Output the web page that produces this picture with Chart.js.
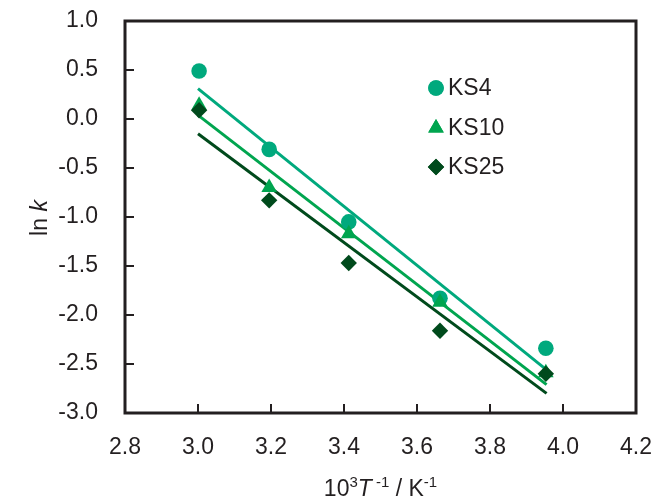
<!DOCTYPE html>
<html>
<head>
<meta charset="utf-8">
<script src="https://cdn.jsdelivr.net/npm/chart.js@4"></script>
<style>
  html, body { margin: 0; padding: 0; background: #fff; }
  #wrap { width: 651px; height: 498px; }
</style>
</head>
<body>
<div id="wrap"><canvas id="myChart" width="651" height="498"></canvas></div>
<script>
// 10^3/T values (K^-1)
const invT = [3.003, 3.195, 3.413, 3.663, 3.953];

// ln k per sample
const ks4 = [0.49, -0.31, -1.05, -1.83, -2.34];
const ks10 = [0.14, -0.70, -1.17, -1.87, -2.59];
const ks25 = [0.09, -0.83, -1.47, -2.16, -2.60];

// trend line ends
const fitX = [3.0, 3.955];
const fitKS4 = [0.31, -2.56];
const fitKS10 = [0.04, -2.71];
const fitKS25 = [-0.15, -2.80];

const seriesNames = ['KS4', 'KS10', 'KS25'];
const colors = ['#00a97d', '#00a54f', '#004a1c'];
const shapes = ['circle', 'triangle', 'rectRot'];
const sizes = [7.8, 9, 8.2];

const xTicks = [2.8, 3.0, 3.2, 3.4, 3.6, 3.8, 4.0, 4.2];
const yTicks = [1.0, 0.5, 0.0, -0.5, -1.0, -1.5, -2.0, -2.5, -3.0];

const axisColor = '#231f20';
const font = '"Liberation Sans", Arial, sans-serif';
const fs = 23;

function pts(xs, ys) {
    return xs.map((x, i) => ({ x: x, y: ys[i] }));
}

const pointSets = [ks4, ks10, ks25];
const fitSets = [fitKS4, fitKS10, fitKS25];
const datasets = [];

pointSets.forEach((ys, i) => {
    datasets.push({
        label: seriesNames[i],
        data: pts(invT, ys),
        showLine: false,
        pointStyle: shapes[i],
        pointRadius: sizes[i],
        pointHoverRadius: sizes[i],
        backgroundColor: colors[i],
        borderColor: colors[i],
        borderWidth: 0,
        order: 3 - i
    });
});

fitSets.forEach((ys, i) => {
    datasets.push({
        label: seriesNames[i] + ' fit',
        data: pts(fitX, ys),
        showLine: true,
        pointRadius: 0,
        borderColor: colors[i],
        borderWidth: 3,
        fill: false,
        order: 10 + i
    });
});

// box, inward ticks, legend and axis titles
const decor = {
    id: 'decor',
    afterDraw(chart) {
        const ctx = chart.ctx;
        const a = chart.chartArea;
        const xs = chart.scales.x;
        const ys = chart.scales.y;
        ctx.save();

        // ticks
        ctx.strokeStyle = axisColor;
        ctx.lineWidth = 2;
        xTicks.forEach(v => {
            const px = xs.getPixelForValue(v);
            ctx.beginPath();
            ctx.moveTo(px, a.bottom);
            ctx.lineTo(px, a.bottom - 9);
            ctx.stroke();
        });
        yTicks.forEach(v => {
            const py = ys.getPixelForValue(v);
            ctx.beginPath();
            ctx.moveTo(a.left, py);
            ctx.lineTo(a.left + 9, py);
            ctx.stroke();
        });

        // frame
        ctx.lineWidth = 3;
        ctx.strokeRect(a.left, a.top, a.right - a.left, a.bottom - a.top);

        // legend
        const lx = 436;
        const ly = [88, 128, 167];
        ctx.font = fs + 'px ' + font;
        ctx.textBaseline = 'middle';
        ctx.textAlign = 'left';
        seriesNames.forEach((name, i) => {
            ctx.fillStyle = colors[i];
            Chart.helpers.drawPoint(ctx, {
                pointStyle: shapes[i],
                radius: sizes[i],
                borderWidth: 0
            }, lx, ly[i]);
            ctx.fill();
            ctx.fillStyle = axisColor;
            ctx.fillText(name, lx + 12, ly[i] + 1);
        });

        // y title: ln k
        ctx.save();
        ctx.translate(47, 218);
        ctx.rotate(-Math.PI / 2);
        ctx.fillStyle = axisColor;
        ctx.textAlign = 'left';
        ctx.textBaseline = 'alphabetic';
        ctx.font = fs + 'px ' + font;
        const w1 = ctx.measureText('ln ').width;
        ctx.font = 'italic ' + fs + 'px ' + font;
        const w2 = ctx.measureText('k').width;
        let sx = -(w1 + w2) / 2;
        ctx.font = fs + 'px ' + font;
        ctx.fillText('ln ', sx, 0);
        ctx.font = 'italic ' + fs + 'px ' + font;
        ctx.fillText('k', sx + w1, 0);
        ctx.restore();

        // x title: 10^3 T^-1 / K^-1
        const parts = [
            { t: '10', f: fs + 'px ', dy: 0 },
            { t: '3', f: '15px ', dy: -9 },
            { t: 'T', f: 'italic ' + fs + 'px ', dy: 0 },
            { t: ' -1', f: '15px ', dy: -9 },
            { t: ' / K', f: fs + 'px ', dy: 0 },
            { t: '-1', f: '15px ', dy: -9 }
        ];
        let total = 0;
        parts.forEach(p => {
            ctx.font = p.f + font;
            p.w = ctx.measureText(p.t).width;
            total += p.w;
        });
        let cx = (a.left + a.right) / 2 - total / 2;
        ctx.fillStyle = axisColor;
        ctx.textBaseline = 'alphabetic';
        parts.forEach(p => {
            ctx.font = p.f + font;
            ctx.fillText(p.t, cx, 496 + p.dy);
            cx += p.w;
        });

        ctx.restore();
    }
};

function noPad(scale) {
    scale.paddingTop = 0;
    scale.paddingBottom = 0;
    scale.paddingLeft = 0;
    scale.paddingRight = 0;
}

new Chart('myChart', {
    type: 'scatter',
    data: { datasets: datasets },
    options: {
        responsive: false,
        animation: false,
        layout: { padding: { left: 0, right: 15, top: 21, bottom: 0 } },
        plugins: {
            legend: { display: false },
            tooltip: { enabled: false }
        },
        scales: {
            x: {
                type: 'linear',
                min: 2.8,
                max: 4.2,
                afterBuildTicks(scale) {
                    scale.ticks = xTicks.map(v => ({ value: v }));
                },
                afterFit(scale) { scale.height = 85; noPad(scale); },
                grid: { display: false, drawTicks: false },
                border: { display: false },
                ticks: {
                    padding: 21,
                    color: axisColor,
                    font: { family: font, size: fs },
                    callback: v => v.toFixed(1)
                }
            },
            y: {
                type: 'linear',
                min: -3,
                max: 1,
                afterBuildTicks(scale) {
                    scale.ticks = yTicks.map(v => ({ value: v }));
                },
                afterFit(scale) { scale.width = 125; noPad(scale); },
                grid: { display: false, drawTicks: false },
                border: { display: false },
                ticks: {
                    padding: 27,
                    color: axisColor,
                    font: { family: font, size: fs },
                    callback: v => v.toFixed(1)
                }
            }
        }
    },
    plugins: [decor]
});
</script>
</body>
</html>
